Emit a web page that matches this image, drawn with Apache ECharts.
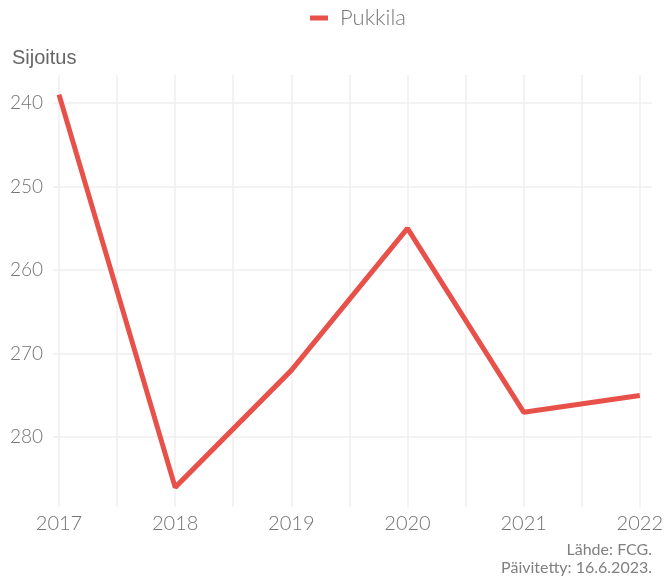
<!DOCTYPE html>
<html>
<head>
<meta charset="utf-8">
<script src="https://cdn.jsdelivr.net/npm/echarts@6/dist/echarts.min.js"></script>
<style>
  html, body { margin: 0; padding: 0; background: #fff; }
  #chart { width: 666px; height: 579px; }
</style>
</head>
<body>
<div id="chart"></div>
<script>
const years = [2017, 2018, 2019, 2020, 2021, 2022];
const pukkila = [239, 286, 272, 255, 277, 275];
const yTicks = [240, 250, 260, 270, 280];

// ggplot-like 5% padding around the data
const lo = Math.min(...pukkila), hi = Math.max(...pukkila);
const pad = (hi - lo) * 0.05;
const yMin = lo - pad, yMax = hi + pad;

const plotTop = 75, plotBottom = 507;
const h = plotBottom - plotTop;
const toPx = v => plotTop + (v - yMin) / (yMax - yMin) * h;
const gridTop0 = toPx(yTicks[0]);
const gridBot0 = toPx(yTicks[yTicks.length - 1]);

const gridColor = '#efefef';

const chart = echarts.init(document.getElementById('chart'));
chart.setOption({
  animation: false,
  legend: {
    top: 2,
    left: 305,
    itemWidth: 18,
    itemHeight: 5,
    icon: 'rect',
    textStyle: { fontFamily: 'Lato', fontSize: 22, color: '#777', fontWeight: 300, padding: [0, 0, 0, 7] },
    data: ['Pukkila']
  },
  title: {
    text: 'Sijoitus',
    left: 7, top: 43,
    textStyle: { fontFamily: 'Liberation Sans', fontSize: 20, fontWeight: 'normal', color: '#666' }
  },
  graphic: [{
    type: 'text',
    right: 14, bottom: 2,
    style: {
      text: 'Lähde: FCG.\nPäivitetty: 16.6.2023.',
      font: '16px Lato',
      fill: '#808080',
      textAlign: 'right',
      lineHeight: 18
    }
  }],
  grid: [
    { left: 53, right: 14, top: gridTop0, height: gridBot0 - gridTop0 },
    { left: 59, right: 25.5, top: plotTop, height: h }
  ],
  xAxis: [
    { gridIndex: 0, type: 'value', show: false, min: 0, max: 1 },
    {
      gridIndex: 1, type: 'value', min: 2017, max: 2022, interval: 0.5,
      axisLine: { show: false }, axisTick: { show: false },
      splitLine: { show: true, lineStyle: { color: gridColor, width: 1.5 } },
      axisLabel: {
        margin: 7, fontFamily: 'Lato', fontSize: 20, fontWeight: 300, color: '#737373',
        formatter: v => (v % 1 === 0 ? String(v) : '')
      }
    }
  ],
  yAxis: [
    {
      gridIndex: 0, type: 'value', inverse: true,
      min: yTicks[0], max: yTicks[yTicks.length - 1], interval: 10,
      axisLine: { show: false }, axisTick: { show: false },
      splitLine: { show: true, lineStyle: { color: gridColor, width: 1.5 } },
      axisLabel: { margin: 10, fontFamily: 'Lato', fontSize: 19, fontWeight: 300, color: '#737373' }
    },
    { gridIndex: 1, type: 'value', inverse: true, min: yMin, max: yMax, show: false }
  ],
  series: [
    {
      name: 'Pukkila',
      type: 'line',
      xAxisIndex: 1, yAxisIndex: 1,
      data: years.map((y, i) => [y, pukkila[i]]),
      showSymbol: false,
      color: '#e8514a',
      lineStyle: { width: 5, color: '#e8514a' }
    }
  ]
});
</script>
</body>
</html>
